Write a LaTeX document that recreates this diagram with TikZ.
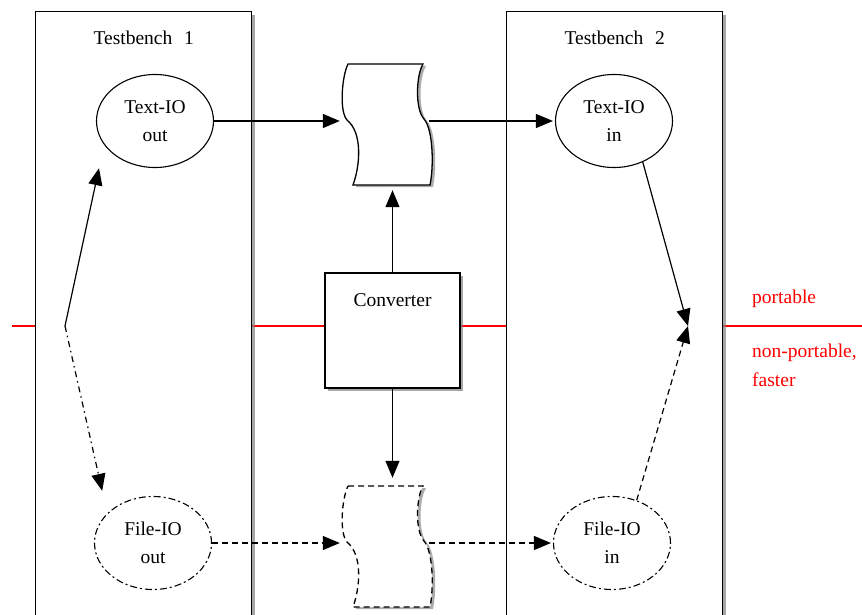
\documentclass[tikz,border=0pt]{standalone}
\usepackage{fontspec}
\setmainfont{Liberation Serif}
\usetikzlibrary{arrows.meta,shapes.geometric,shadows,calc}
\tikzset{
  every node/.style={font=\fontsize{19.5}{28}\selectfont},
  boxshadow/.style={drop shadow={shadow xshift=3pt, shadow yshift=-3pt, fill=gray, opacity=0.7}},
  bench/.style={draw, fill=white, line width=1.4pt, minimum width=216pt,
    minimum height=660pt, inner sep=0pt, boxshadow},
  frame/.style={draw, fill=white, line width=1.3pt, inner sep=0pt, boxshadow},
  io/.style={ellipse, draw, fill=white, line width=1.1pt, minimum width=117pt,
    minimum height=93pt, inner sep=0pt, align=center},
  fio/.style={io, dash pattern=on 7pt off 3pt on 2pt off 3pt},
  holder/.style={rectangle, minimum width=86pt, minimum height=128pt, inner sep=0pt},
  arr/.style={-{Triangle[length=17pt,width=14pt]}, line width=1.2pt},
  fdash/.style={dash pattern=on 6pt off 4pt},
  dashdot/.style={dash pattern=on 6pt off 4pt on 1.5pt off 4pt},
  portline/.style={red, line width=1.3pt},
  redtxt/.style={text=red, anchor=west, inner sep=0pt},
  scrollshape/.pic={
    \begin{scope}[shift={(3,2)}]
      \fill[gray!65] (-41,-57) -- (34,-57) .. controls (27,-45) and (26,-12) .. (35,-2)
        .. controls (44,8) and (45,45) .. (41,64) -- (-36,64)
        .. controls (-29,45) and (-26,12) .. (-42,-1)
        .. controls (-50,-10) and (-47,-45) .. (-41,-57) -- cycle;
    \end{scope}
    \filldraw[fill=white, line width=1.3pt, pic actions] (-41,-57) -- (34,-57)
      .. controls (27,-45) and (26,-12) .. (35,-2)
      .. controls (44,8) and (45,45) .. (41,64) -- (-36,64)
      .. controls (-29,45) and (-26,12) .. (-42,-1)
      .. controls (-50,-10) and (-47,-45) .. (-41,-57) -- cycle;
  }
}
\begin{document}
\begin{tikzpicture}[x=1pt,y=-1pt]
\useasboundingbox (0,0) rectangle (862,615);

% the portability boundary
\draw[portline] (12,326) -- (862,326);

% testbenches
\node[bench, anchor=north west] (tb1) at (35,11) {};
\node[bench, anchor=north west] (tb2) at (506,11) {};
\node at ([yshift=-27pt]tb1.north) {Testbench\hspace{0.6em}1};
\node at ([yshift=-27pt]tb2.north) {Testbench\hspace{0.6em}2};

% converter
\node[frame, minimum width=135pt, minimum height=115pt] (conv) at (392.5,330.5) {};
\node at ([yshift=-28pt]conv.north) {Converter};

% IO packages
\node[io]  (tout) at (155,121) {Text-IO\\out};
\node[io]  (tin)  at (614,121) {Text-IO\\in};
\node[fio] (fout) at (153,543) {File-IO\\out};
\node[fio] (fin)  at (612,543) {File-IO\\in};

% files
\node[holder] (doc1) at (386,121) {};
\node[holder] (doc2) at (386,543) {};
\pic at ($(doc1.center)+(3,0)$) {scrollshape};
\pic[fdash] at ($(doc2.center)+(3,0)$) {scrollshape};

% data flow
\draw[arr, shorten >=3pt] (tout.east) -- (doc1.west);
\draw[arr, shorten >=2pt] (doc1.east) -- (tin.west);
\draw[arr, fdash, shorten >=3pt] (fout.east) -- (doc2.west);
\draw[arr, fdash, shorten >=2pt] (doc2.east) -- (fin.west);
\draw[arr, shorten >=5pt] (conv.north) -- (conv.north |- doc1.south);
\draw[arr, shorten >=1pt] (conv.south) -- (conv.south |- doc2.north);

% choice of IO method
\coordinate (jl) at (65,326);
\coordinate (jr) at (688,326);
\draw[arr, shorten >=24pt] (jl) -- (tout.205);
\draw[arr, dashdot, shorten >=23pt] (jl) -- (fout.147);
\draw[arr] (tin.305) -- (jr);
\draw[arr, fdash] (fin.60) -- (jr);

% labels
\node[redtxt] at (752,299) {portable};
\node[redtxt] at (752,353) {non-portable,};
\node[redtxt] at (752,380) {faster};
\end{tikzpicture}
\end{document}
